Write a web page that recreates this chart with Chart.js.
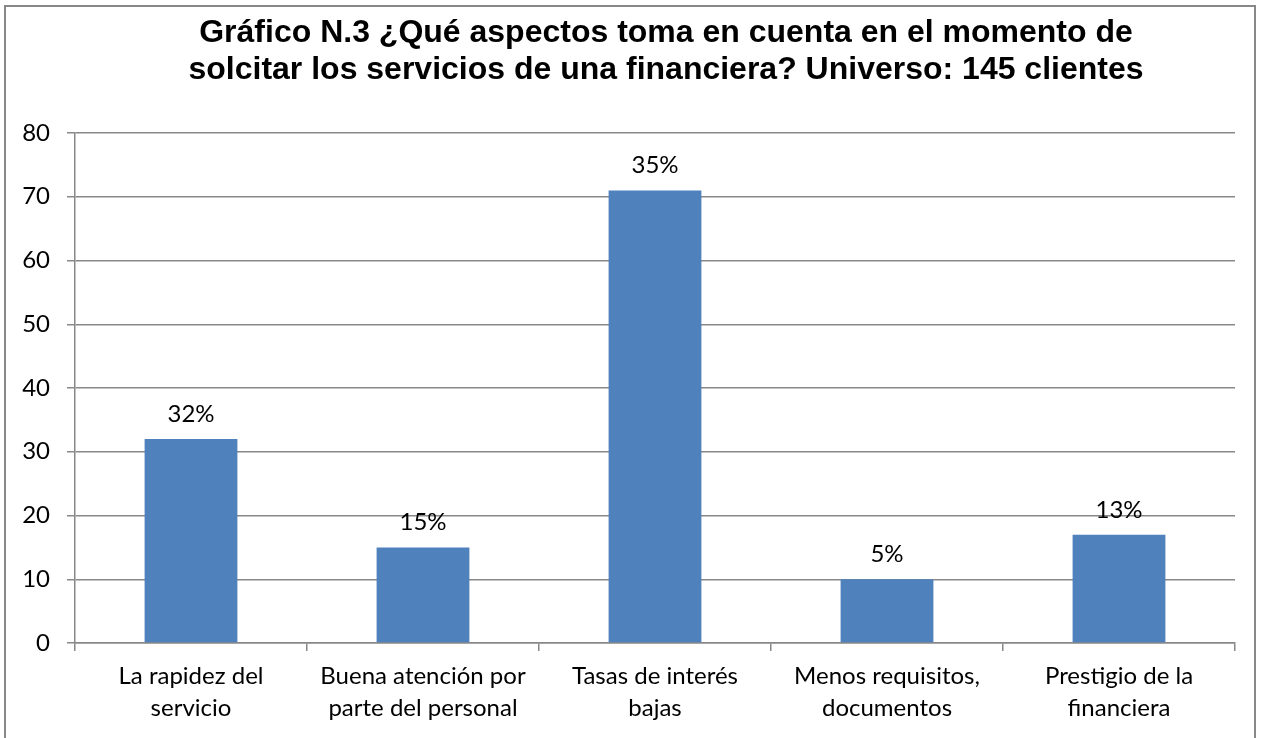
<!DOCTYPE html>
<html>
<head>
<meta charset="utf-8">
<script src="https://cdn.jsdelivr.net/npm/chart.js@4.4.1/dist/chart.umd.min.js"></script>
<style>
    body { margin: 0; background: #fff; }
    #wrap { position: relative; width: 1264px; height: 738px; overflow: hidden; }
    #frame { position: absolute; left: 4px; top: 5px; width: 1248px; height: 760px; border: 2px solid #888; }
    #title {
        position: absolute; left: 0; top: 13px; width: 1332px; text-align: center;
        font: bold 32px "Liberation Sans", Arial, sans-serif; line-height: 37px; color: #000;
    }
    #chartCanvas { position: absolute; left: 0; top: 0; }
</style>
</head>
<body>
<div id="wrap">
    <div id="frame"></div>
    <canvas id="chartCanvas" width="1264" height="738"></canvas>
    <div id="title">Gráfico N.3 ¿Qué aspectos toma en cuenta en el momento de<br>solcitar los servicios de una financiera? Universo: 145 clientes</div>
</div>
<script>
// Chart data
const categories = [
    ['La rapidez del', 'servicio'],
    ['Buena atención por', 'parte del personal'],
    ['Tasas de interés', 'bajas'],
    ['Menos requisitos,', 'documentos'],
    ['Prestigio de la', 'financiera']
];
const clientCounts = [32, 15, 71, 10, 17];
const percentLabels = ['32%', '15%', '35%', '5%', '13%'];

const axisFont = { family: 'Lato, "Open Sans", sans-serif', size: 24 };

// Draw the percentage above each bar
const barLabels = {
    id: 'barLabels',
    afterDatasetsDraw(chart) {
        const ctx = chart.ctx;
        const bars = chart.getDatasetMeta(0).data;
        ctx.save();
        ctx.font = '24px Lato, "Open Sans", sans-serif';
        ctx.fillStyle = '#000';
        ctx.textAlign = 'center';
        ctx.textBaseline = 'alphabetic';
        bars.forEach((bar, i) => {
            ctx.fillText(percentLabels[i], bar.x, bar.y - 17);
        });
        ctx.restore();
    }
};

const ctx = document.getElementById('chartCanvas').getContext('2d');
new Chart(ctx, {
    type: 'bar',
    data: {
        labels: categories,
        datasets: [{
            data: clientCounts,
            backgroundColor: '#4F81BD',
            borderWidth: 0,
            barPercentage: 0.4,
            categoryPercentage: 1
        }]
    },
    options: {
        responsive: false,
        animation: false,
        layout: {
            padding: { top: 133, right: 29, bottom: 0, left: 0 }
        },
        plugins: {
            legend: { display: false },
            title: { display: false },
            tooltip: { enabled: false }
        },
        scales: {
            x: {
                afterFit(scale) { scale.height = 95; },
                grid: {
                    offset: true,
                    drawOnChartArea: false,
                    drawTicks: true,
                    tickLength: 8,
                    color: '#888',
                    lineWidth: 1.5
                },
                border: { color: '#888', width: 1.5 },
                ticks: {
                    color: '#000',
                    font: { ...axisFont, lineHeight: 1.3 },
                    padding: 10,
                    maxRotation: 0,
                    autoSkip: false
                }
            },
            y: {
                min: 0,
                max: 80,
                afterFit(scale) { scale.width = 75; },
                grid: {
                    color: '#888',
                    lineWidth: 1.5,
                    drawTicks: true,
                    tickLength: 8
                },
                border: { color: '#888', width: 1.5 },
                ticks: {
                    stepSize: 10,
                    color: '#000',
                    font: axisFont,
                    padding: 17
                }
            }
        }
    },
    plugins: [barLabels]
});
</script>
</body>
</html>
